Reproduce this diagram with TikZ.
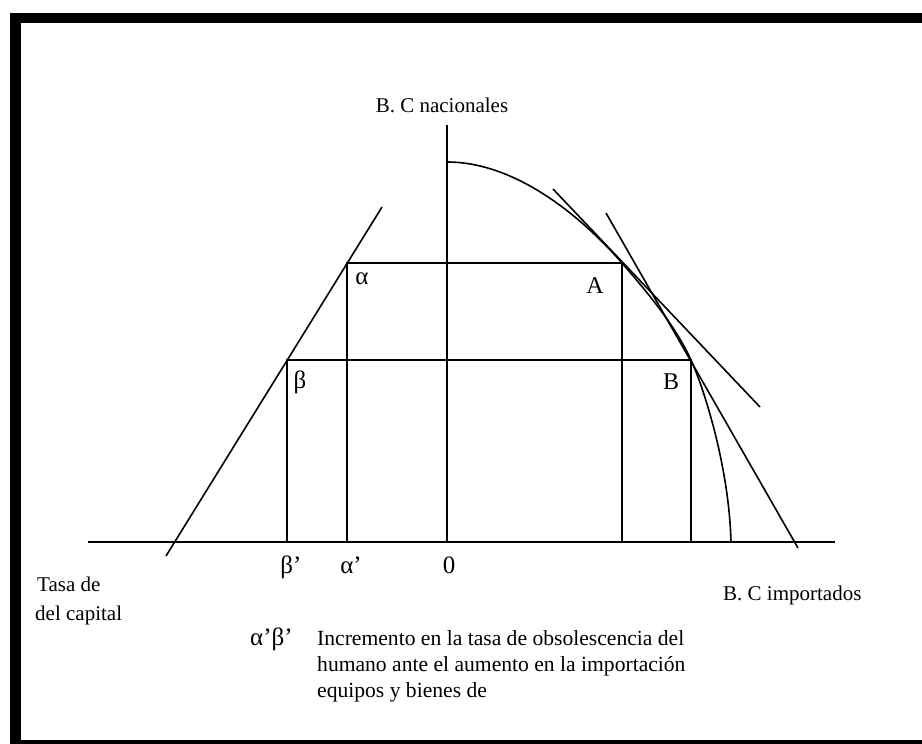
\documentclass[tikz,border=0pt]{standalone}
\usepackage{fontspec}
\setmainfont{Liberation Serif}
\usetikzlibrary{positioning,calc}
\tikzset{
  axisline/.style={line width=1.7pt,draw=black},
  guide/.style={line width=1.6pt,draw=black},
  frontier/.style={line width=1.6pt,draw=black},
  lbl/.style={font=\fontsize{21}{25}\selectfont,inner sep=0pt},
  greek/.style={font=\fontsize{25}{29}\selectfont,inner sep=0pt}
}

\begin{document}
\begin{tikzpicture}[
  x=1pt,y=-1pt,
  framebar/.style={fill=black},
  note/.style={font=\fontsize{21.6}{26}\selectfont,align=left,inner sep=0pt}
]
  \useasboundingbox (0,0) rectangle (922,744);

  % frame
  \fill[framebar] (10,13) rectangle (922,23);
  \fill[framebar] (10,13) rectangle (21,744);
  \fill[framebar] (10,740) rectangle (922,744);

  % axes
  \coordinate (O)  at (447,542);
  \coordinate (xl) at (88,542);
  \coordinate (xr) at (835,542);
  \coordinate (yt) at (447,125);

  \draw[axisline] (xl)--(xr);
  \draw[axisline] (O)--(yt);

  % points
  \coordinate (A)  at (622,263);
  \coordinate (B)  at (691,360);
  \coordinate (al) at (347,263);
  \coordinate (be) at (287,360);

  \draw[guide] (al|-O)--(al)--(A)--(A|-O);
  \draw[guide] (be|-O)--(be)--(B)--(B|-O);

  % left line
  \coordinate (l1) at (166,556);
  \coordinate (l2) at (382,207);
  \draw[guide] (l1)--(l2);

  % tangents
  \coordinate (ta1) at (553,189);
  \coordinate (ta2) at (760,407);
  \coordinate (tb1) at (606,213);
  \coordinate (tb2) at (798,548);
  \draw[guide] (ta1)--(ta2);
  \draw[guide] (tb1)--(tb2);

  % frontier
  \coordinate (top) at (447,162);
  \coordinate (end) at (731,542);
  \draw[frontier] (top) .. controls (515,162) and (580,215) .. (A)
    .. controls (647,292) and (675,325) .. (B)
    .. controls (703,386) and (729,465) .. (end);

  % labels
  \node[lbl,anchor=base] (nac) at (442,112) {B. C nacionales};
  \node[lbl,anchor=base west] (imp) at (723,600) {B. C importados};
  \node[lbl,anchor=base west] (tasa) at (37,591) {Tasa de};
  \node[lbl,anchor=base west] (cap) at (35,620) {del capital};

  \node[greek] (la) at (362,279) {α};
  \node[greek] (lb) at (300,382) {β};
  \node[lbl,font=\fontsize{24}{28}\selectfont] (lA) at (595,286) {A};
  \node[lbl,font=\fontsize{24}{28}\selectfont] (lB) at (671,382) {B};

  \foreach \p/\lab in {be/β’,al/α’}{
    \node[greek,anchor=base] at ($(\p|-O)+(4,31)$) {\lab};
  }
  \node[greek,anchor=base] (zero) at (449,573) {0};

  % note
  \node[greek,anchor=base west] (ab) at (250,645) {α’β’};
  \node[note,anchor=base west] (txt) at (317,697)
    {Incremento en la tasa de obsolescencia del\\
     humano ante el aumento en la importación\\
     equipos y bienes de};
\end{tikzpicture}
\end{document}
